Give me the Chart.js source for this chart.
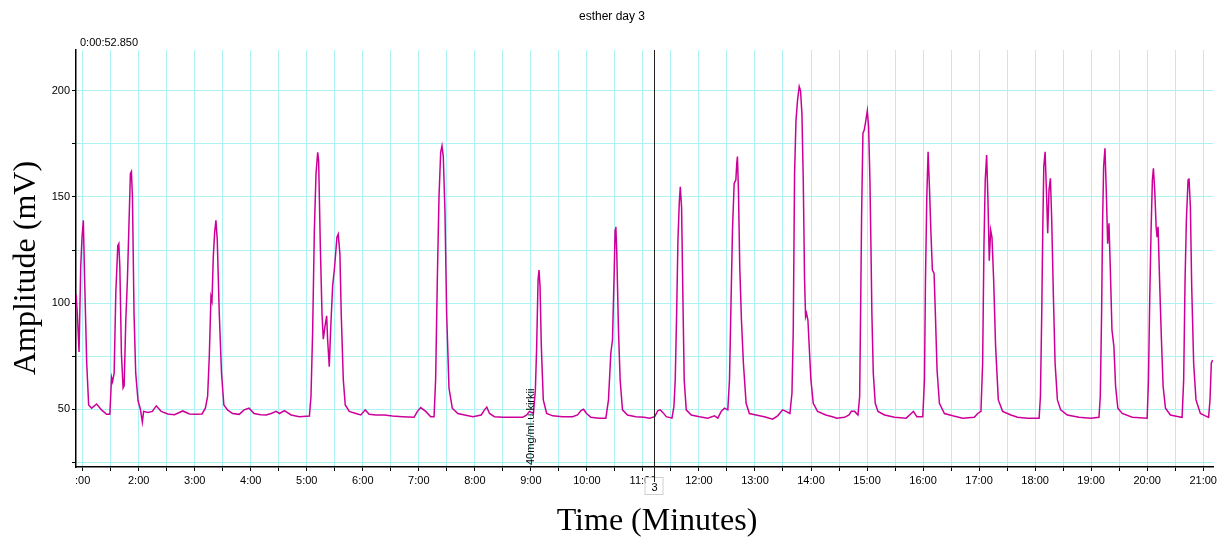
<!DOCTYPE html>
<html>
<head>
<meta charset="utf-8">
<script src="https://cdn.jsdelivr.net/npm/chart.js@4/dist/chart.umd.min.js"></script>
<style>
  html, body { margin: 0; padding: 0; background: #fff; }
  #wrap { width: 1220px; height: 540px; }
</style>
</head>
<body>
<div id="wrap"><canvas id="traceChart" width="1220" height="540"></canvas></div>
<script>
// time of each reading (seconds) and amplitude (mV)
const seconds = [
  52.9, 54.3, 56.1, 57.9, 59.3, 60.7, 62.1, 64.3, 66.4, 69.6, 74.9, 80.2, 85.6, 89.1,
  90.9, 92.0, 93.7, 95.5, 97.6, 98.7, 99.8, 101.5, 103.3, 104.4, 106.2, 107.9, 109.7,
  111.1, 112.2, 113.3, 115.0, 116.8, 119.3, 121.8, 123.9, 125.3, 129.9, 134.6, 138.8,
  144.1, 151.2, 158.3, 167.2, 174.3, 181.4, 187.8, 191.4, 193.8, 195.6, 197.4, 198.5,
  199.9, 201.3, 202.7, 204.1, 206.3, 208.7, 211.2, 215.1, 220.5, 227.6, 232.9, 238.2,
  243.5, 250.6, 256.5, 261.8, 267.2, 270.7, 276.1, 283.2, 292.1, 302.8, 304.5, 306.3,
  308.1, 309.9, 311.7, 312.7, 314.5, 316.3, 317.7, 319.5, 321.3, 322.3, 324.1, 325.5,
  327.7, 329.8, 332.3, 333.7, 335.5, 336.9, 339.1, 341.2, 345.5, 352.6, 357.9, 362.6,
  366.8, 374.0, 382.9, 391.8, 402.4, 414.9, 418.5, 422.0, 427.4, 432.7, 436.3, 438.0,
  439.8, 441.6, 443.4, 444.8, 446.2, 448.0, 449.8, 452.3, 455.8, 461.8, 469.0, 477.9,
  486.8, 490.3, 492.8, 495.7, 501.0, 509.9, 520.6, 531.3, 535.5, 538.4, 542.7, 544.8,
  546.2, 547.7, 548.7, 549.8, 551.2, 553.3, 556.9, 563.3, 574.0, 584.7, 590.0, 593.6,
  596.4, 599.6, 604.2, 613.1, 620.3, 623.1, 625.6, 627.4, 629.2, 630.2, 631.0, 632.0,
  633.8, 635.6, 638.1, 643.4, 652.3, 661.2, 667.2, 672.6, 676.1, 678.6, 681.5, 685.0,
  691.1, 693.2, 694.6, 696.1, 697.5, 698.9, 700.0, 701.4, 702.8, 704.2, 706.4, 711.7,
  720.6, 729.5, 736.6, 740.2, 743.8, 747.3, 750.9, 752.7, 754.1, 755.9, 757.7, 759.5,
  760.5, 761.2, 762.3, 763.7, 765.5, 767.6, 770.5, 774.0, 781.1, 790.0, 798.9, 804.3,
  809.6, 813.2, 817.4, 819.6, 821.0, 822.4, 823.9, 825.6, 827.4, 828.8, 830.3, 831.7,
  833.1, 834.2, 835.2, 836.7, 838.1, 839.9, 842.4, 847.0, 855.9, 864.8, 867.2, 876.1,
  880.7, 883.2, 886.7, 890.3, 892.1, 893.1, 894.2, 895.6, 897.0, 898.5, 900.3, 901.7,
  903.1, 904.2, 905.2, 906.7, 908.8, 911.7, 918.8, 929.5, 941.9, 947.3, 949.7, 953.3,
  959.7, 961.5, 962.6, 964.0, 965.4, 966.8, 968.6, 970.0, 971.8, 973.2, 975.0, 977.5,
  982.9, 991.8, 1002.4, 1014.9, 1018.5, 1022.0, 1023.8, 1025.2, 1026.6, 1028.1, 1029.5,
  1030.9, 1032.4, 1033.8, 1035.6, 1037.7, 1040.6, 1045.2, 1054.1, 1061.2, 1071.8, 1084.3,
  1085.7, 1087.1, 1088.2, 1089.3, 1090.7, 1092.1, 1093.5, 1094.9, 1096.4, 1097.8, 1099.6,
  1101.4, 1103.9, 1107.4, 1114.5, 1127.0, 1139.5, 1148.4, 1149.8, 1151.2, 1152.3, 1153.4,
  1154.8, 1156.2, 1157.7, 1159.1, 1160.5, 1162.3, 1164.4, 1166.2, 1168.6, 1173.3, 1184.0,
  1200.0, 1201.4, 1202.8, 1204.2, 1205.6, 1206.7, 1208.1, 1209.6, 1210.6, 1211.7, 1213.5,
  1215.3, 1217.1, 1219.6, 1224.9, 1233.8, 1237.4, 1239.1, 1240.6, 1242.0, 1243.8, 1244.8,
  1246.3, 1247.7, 1249.8, 1252.3, 1257.0, 1262.3, 1265.8, 1267.3, 1268.7, 1270.1
];
const amplitude = [
  104, 95, 77, 117, 131, 139, 111, 72, 52, 50.5, 52.5, 49.7, 47.6, 47.6,
  65, 63, 67, 105, 127, 128, 117, 76, 60, 61, 92, 111, 139,
  161, 162, 150, 95, 67, 54, 50, 44, 49, 48.5, 49, 51.6,
  49, 47.8, 47.4, 49.2, 47.8, 47.6, 47.8, 50.5, 56, 75, 103, 101,
  122, 133, 139, 130, 95, 67, 52, 49.7, 48, 47.6, 49.7, 50.5,
  48, 47.4, 47.3, 48, 49, 48, 49.4, 47.3, 46.5, 46.8, 56, 87,
  134, 161, 171, 167, 127, 95, 83, 89, 94, 83, 70, 87,
  108, 117, 131, 132.5, 123, 95, 64, 52, 49, 48, 47.3, 49.7,
  47.6, 47.3, 47.3, 46.8, 46.5, 46.2, 49, 50.8, 49, 46.5, 46.5, 64,
  111, 150, 171, 174, 169, 143, 95, 60, 50.5, 48, 47.3, 46.5,
  47.3, 49.7, 51, 48, 46.5, 46.2, 46.2, 46.2, 47.3, 49, 48, 59,
  79.5, 111, 115.6, 108, 79.5, 54.4, 48, 46.9, 46.5, 46.5, 47.3, 49.4,
  50, 48, 46.2, 45.8, 45.8, 54.4, 76.4, 82.6, 114, 134.4, 136, 123.4,
  87.4, 63.8, 49.7, 47.3, 46.5, 46.2, 45.8, 46.5, 49.4, 49.7, 48.4, 46.5,
  45.8, 51.3, 63.8, 95.2, 129.7, 147, 154.8, 145, 103, 63.8, 49.7, 47.3,
  46.5, 45.8, 46.9, 45.8, 49, 50.5, 49.7, 63.8, 95, 134.4, 156.4, 158,
  165.8, 169, 153, 117, 92, 71.7, 52.8, 48, 47.3, 46.5, 45.3, 46.9,
  49.7, 49, 48, 57.5, 87.4, 161, 186, 195.6, 202, 200, 189, 158,
  111, 93.6, 95.2, 92, 79.5, 63.8, 52.8, 49, 47.3, 46.2, 45.8, 46.2,
  47.3, 49, 49, 47.3, 56, 95, 142, 180, 181.5, 185.4, 190.6, 183,
  158, 126.6, 95, 67, 52.8, 49, 47.3, 46.2, 45.8, 48, 49, 46.5,
  46.5, 63.8, 111, 150, 171.3, 155, 131, 115.6, 114, 95, 68.5, 52.8,
  48, 46.9, 45.8, 46.2, 48, 49, 71.7, 126.6, 158, 169.7, 148.5,
  120, 134.4, 131, 111, 79.5, 54.4, 49, 47.3, 46.2, 45.8, 45.8,
  56, 95, 134.4, 164.3, 171.3, 153.3, 132.9, 153.3, 158.8, 139, 103,
  71.7, 54.4, 49.7, 47.3, 46.2, 45.8, 46.2, 56, 95, 139, 164.3,
  172.9, 153.3, 128, 137.6, 117, 87.4, 79.5, 60.7, 50.5, 48, 46.2,
  45.8, 63.8, 103, 134.4, 158, 163.5, 153.3, 136, 131, 136, 107.8,
  82.6, 60.7, 50.5, 47.3, 46.5, 46.2, 63.8, 111, 139, 158, 158.8,
  145.4, 107.8, 71.7, 54.4, 48, 46.9, 46.2, 54.4, 71.7, 73.2
];
const yLabelTicks = [50, 100, 150, 200];
// event marks on the recording (seconds)
const doseTime = 540;
const doseLabel = "40mg/ml.u.kirkii";
const cursorTime = 671.8;
const cursorLabel = "3";
const chartTitle = "esther day 3";
const startStamp = "0:00:52.850";

const tickFont = { family: "'Liberation Sans', Arial, sans-serif", size: 11 };

const overlay = {
  id: "overlay",
  afterDraw(chart) {
    const { ctx, chartArea, scales } = chart;
    ctx.save();
    ctx.fillStyle = "#000";
    ctx.textBaseline = "middle";

    ctx.font = "12px 'Liberation Sans', Arial, sans-serif";
    ctx.textAlign = "center";
    ctx.fillText(chartTitle, 612, 17);

    ctx.font = "11px 'Liberation Sans', Arial, sans-serif";
    ctx.textAlign = "left";
    ctx.fillText(startStamp, 80, 43);

    // axis titles
    ctx.font = "32px 'Liberation Serif', 'Times New Roman', serif";
    ctx.textAlign = "center";
    ctx.fillText("Time (Minutes)", 657, 522);
    ctx.save();
    ctx.translate(27, 268);
    ctx.rotate(-Math.PI / 2);
    ctx.fillText("Amplitude (mV)", 0, 0);
    ctx.restore();

    // dose note
    const dx = scales.x.getPixelForValue(doseTime);
    ctx.save();
    ctx.translate(dx, chartArea.bottom - 2);
    ctx.rotate(-Math.PI / 2);
    ctx.font = "11px 'Liberation Sans', Arial, sans-serif";
    ctx.textAlign = "left";
    ctx.fillText(doseLabel, 0, 0);
    ctx.restore();

    // cursor line with its box
    const cx = Math.round(scales.x.getPixelForValue(cursorTime)) + 0.5;
    ctx.fillStyle = "#fff";
    ctx.fillRect(cx - 9, 477, 18, 17);
    ctx.strokeStyle = "#d0d0d0";
    ctx.lineWidth = 1;
    ctx.strokeRect(cx - 9.5, 477.5, 18, 17);
    ctx.strokeStyle = "#222";
    ctx.beginPath();
    ctx.moveTo(cx, chartArea.top);
    ctx.lineTo(cx, 482);
    ctx.stroke();
    ctx.fillStyle = "#000";
    ctx.font = "11px 'Liberation Sans', Arial, sans-serif";
    ctx.textAlign = "center";
    ctx.fillText(cursorLabel, cx, 488);
    ctx.restore();
  }
};

const points = seconds.map((s, i) => ({ x: s, y: amplitude[i] }));

new Chart(document.getElementById("traceChart"), {
  type: "line",
  data: {
    datasets: [{
      data: points,
      borderColor: "#cc0099",
      borderWidth: 1.5,
      pointRadius: 0,
      tension: 0,
      fill: false
    }]
  },
  options: {
    responsive: false,
    animation: false,
    layout: { padding: { top: 50, right: 6, left: 0, bottom: 0 } },
    plugins: { legend: { display: false }, tooltip: { enabled: false } },
    scales: {
      x: {
        type: "linear",
        min: 52.85,
        max: 1270.6,
        afterFit(scale) { scale.height = 73; },
        border: { color: "#000", width: 1.5 },
        grid: { color: "#aef3f3", tickColor: "#000", tickLength: 4, lineWidth: 1 },
        ticks: {
          stepSize: 30,
          includeBounds: false,
          autoSkip: false,
          maxRotation: 0,
          color: "#000",
          font: tickFont,
          padding: 3,
          callback: (v) => {
            if (v % 60 !== 0) return "";
            if (v === 60) return ":00";
            return (v / 60) + ":00";
          }
        }
      },
      y: {
        min: 22.8,
        max: 219.2,
        afterFit(scale) { scale.width = 76; },
        border: { color: "#000", width: 1.5 },
        grid: { color: "#aef3f3", tickColor: "#000", tickLength: 4, lineWidth: 1 },
        ticks: {
          stepSize: 25,
          includeBounds: false,
          color: "#000",
          font: tickFont,
          padding: 2,
          callback: (v) => yLabelTicks.includes(v) ? String(v) : ""
        }
      }
    }
  },
  plugins: [overlay]
});
</script>
</body>
</html>
